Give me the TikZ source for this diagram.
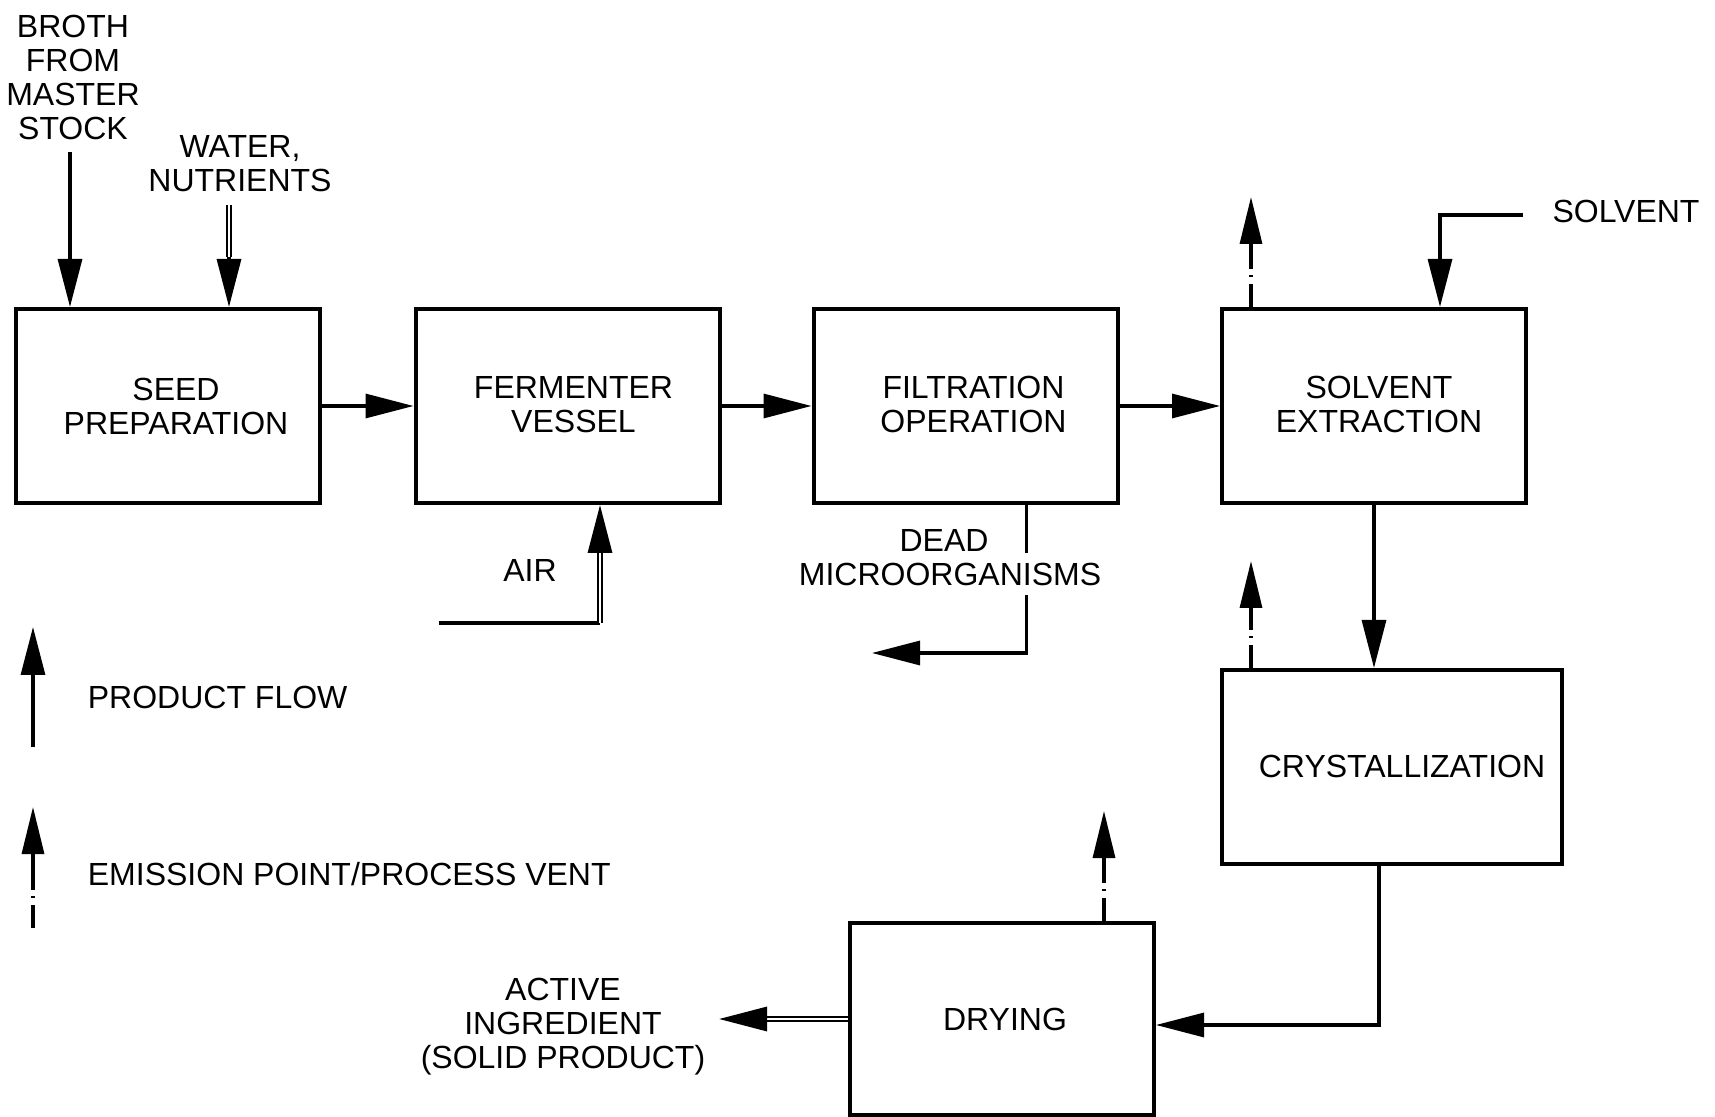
\documentclass[tikz,border=0pt]{standalone}
\usepackage{fontspec}
\setmainfont{Liberation Sans}
\usetikzlibrary{arrows.meta,calc}
\begin{document}
\begin{tikzpicture}[x=0.5pt,y=-0.5pt,
  every node/.style={font=\fontsize{16pt}{17pt}\selectfont, align=center, inner sep=0pt},
  box/.style={draw, line width=2pt, minimum width=152pt, minimum height=97pt},
  flow/.style={line width=1.6pt, -{Triangle[length=24pt,width=12pt]}},
  plain/.style={line width=1.6pt},
  dbl/.style={double, line width=1pt, double distance=1pt},
  tiponly/.style={line width=1.6pt, -{Triangle[length=24pt,width=12pt]}},
  vent/.style={line width=1.6pt, dash pattern=on 11.5pt off 3.5pt on 1pt off 3pt on 30pt, -{Triangle[length=23.5pt,width=11pt]}},
]
\useasboundingbox (0,0) rectangle (1715,1117);

% process boxes
\node[box] (seed) at (168,406) {};
\node[box] (ferm) at (567.5,406) {};
\node[box] (filt) at (965.5,406) {};
\node[box] (solv) at (1374,406) {};
\node[box, minimum width=170pt] (cryst) at (1392,767) {};
\node[box, minimum height=96pt] (dry) at (1002,1019) {};

% box texts
\node (seedtxt) at ($(seed)+(8,0)$) {SEED\\PREPARATION};
\node (fermtxt) at ($(ferm)+(6,-1)$) {FERMENTER\\VESSEL};
\node (filttxt) at ($(filt)+(8,-2)$) {FILTRATION\\OPERATION};
\node (solvtxt) at ($(solv)+(5,-2)$) {SOLVENT\\EXTRACTION};
\node (crysttxt) at ($(cryst)+(10,-1)$) {CRYSTALLIZATION};
\node (drytxt) at ($(dry)+(3,0)$) {DRYING};

% inputs to seed preparation
\coordinate (brothin) at (70,152);
\draw[flow] (brothin) -- (brothin |- seed.north);
\coordinate (waterin) at (229,205);
\coordinate (waterhb) at (229,257);
\draw[dbl] (waterin) -- (waterhb);
\draw[tiponly] (waterhb) -- (waterhb |- seed.north);

% main flow
\draw[flow] (seed.east) -- (ferm.west);
\draw[flow] (ferm.east) -- (filt.west);
\draw[flow] (filt.east) -- (solv.west);
\draw[flow] (solv.south) -- (solv.south |- cryst.north);
\coordinate (cdtop) at ($(cryst.south west)+(159,0)$);
\draw[flow] (cdtop) |- ($(dry.east)+(0,6)$);

% air
\coordinate (airin) at (439,623);
\coordinate (aircorner) at (600,623);
\coordinate (airhb) at (600,552);
\draw[plain] (airin) -- (aircorner);
\draw[dbl] (aircorner) -- (airhb);
\draw[tiponly] (airhb) -- (airhb |- ferm.south);

% dead microorganisms
\coordinate (deadtop) at ($(filt.south west)+(215,0)$);
\coordinate (deadout) at (872,653);
\draw[flow] (deadtop) |- (deadout);

% solvent in
\coordinate (solvin) at (1523,215);
\draw[flow] (solvin) -| ($(solv.north west)+(220,0)$);

% product out
\coordinate (dahb) at (767,1019);
\coordinate (daout) at (719,1019);
\draw[dbl] (dry.west) -- (dahb);
\draw[tiponly] (dahb) -- (daout);

% vents
\draw[vent] ($(solv.north west)+(31,0)$) -- ++(0,-110);
\draw[vent] ($(cryst.north west)+(31,0)$) -- ++(0,-107);
\draw[vent] ($(dry.north west)+(256,0)$) -- ++(0,-110);

% legend
\coordinate (lpfa) at (33,747);
\coordinate (lpfb) at (33,627);
\draw[flow] (lpfa) -- (lpfb);
\coordinate (lema) at (33,928);
\coordinate (lemb) at (33,807);
\draw[vent] (lema) -- (lemb);

% labels
\node (broth) at (73,77.5) {BROTH\\FROM\\MASTER\\STOCK};
\node (water) at (240,164) {WATER,\\NUTRIENTS};
\node (air) at (530,570) {AIR};
\node[fill=white, inner ysep=5pt, inner xsep=1pt] (deadB) at (950,574) {MICROORGANISMS};
\node (deadA) at (944,540) {DEAD};
\node (solvent) at (1626,211) {SOLVENT};
\node (active) at (563,1027) {ACTIVE\\INGREDIENT\\(SOLID PRODUCT)};
\node[anchor=west] (lpf) at (87.5,697) {PRODUCT FLOW};
\node[anchor=west] (lem) at (87.5,874) {EMISSION POINT/PROCESS VENT};
\end{tikzpicture}
\end{document}
